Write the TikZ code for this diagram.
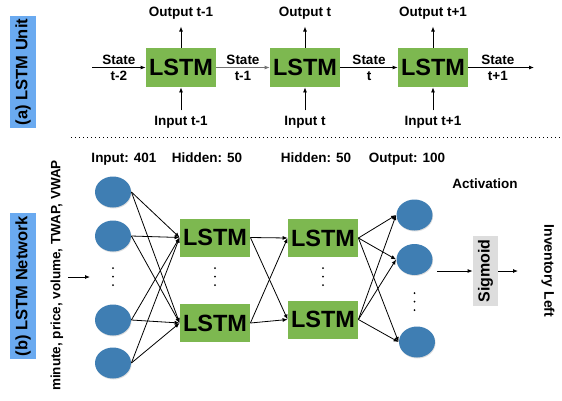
\documentclass[tikz,border=0pt]{standalone}
\usepackage{fontspec}
\setmainfont{Liberation Sans}
\usetikzlibrary{arrows.meta, calc, shapes.geometric, shadows}
\definecolor{lstmgreen}{RGB}{125,184,80}
\definecolor{cellblue}{RGB}{63,126,179}
\definecolor{tagblue}{RGB}{106,170,240}
\definecolor{siggray}{RGB}{221,221,221}
\newcommand{\fs}[1]{\fontsize{#1}{#1}\selectfont\bfseries}
\tikzset{lstmbox/.style = {fill=lstmgreen, inner sep=0pt, minimum width=70pt, minimum height=38pt, font=\fs{23.5}}}
\tikzset{cell/.style = {ellipse, fill=cellblue, inner sep=0pt, minimum width=36pt, minimum height=31pt,
  drop shadow={opacity=0.25, shadow xshift=0.6pt, shadow yshift=-1pt}}}
\tikzset{lbl/.style = {inner sep=2pt, font=\fs{13.5}}}
\tikzset{tag/.style = {fill=tagblue, rotate=90, inner sep=3pt, minimum height=26pt, font=\fs{16.5}}}

\begin{document}
\begin{tikzpicture}[x=1pt, y=-1pt, line width=0.8pt, >={Latex[length=5pt, width=4pt]}]
\useasboundingbox (0,0) rectangle (562,400);

% (a) LSTM unit
\node [tag] (taga) at (23,72) {(a) LSTM Unit};
\node [lstmbox, minimum height=39pt] (u1) at (181,67.5) {LSTM};
\node [lstmbox, minimum height=39pt] (u2) at (305,67.5) {LSTM};
\node [lstmbox, minimum height=39pt] (u3) at (433,67.5) {LSTM};
\coordinate (s0) at (92,67.5);
\coordinate (s4) at (534,67.5);
\draw [->] (s0) -- (u1) node [lbl, midway, above] {State} node [lbl, midway, below=1.5pt] {t-2};
\draw [->, black!55] (u1) -- (u2) node [lbl, black, midway, above] {State} node [lbl, black, midway, below=1.5pt] {t-1};
\draw [->] (u2) -- (u3) node [lbl, midway, above] {State} node [lbl, midway, below=1.5pt] {t};
\draw [->] (u3) -- (s4) node [lbl, pos=0.45, above] {State} node [lbl, pos=0.45, below=1.5pt] {t+1};
\foreach \u/\t in {u1/t-1, u2/t, u3/t+1} {
  \coordinate (\u o) at ($(\u.north)+(0,-21)$);
  \coordinate (\u i) at ($(\u.south)+(0,23)$);
  \draw [->] (\u.north) -- (\u o) node [lbl, above=5pt] {Output \t};
  \draw [->] (\u i) node [lbl, below=3pt] {Input \t} -- (\u.south);
}
\coordinate (d0) at (71,137);
\coordinate (d1) at (562,137);
\draw [line width=1pt, dash pattern=on 1pt off 3pt] (d0) -- (d1);

% (b) LSTM network
\node [tag] (tagb) at (23,286) {(b) LSTM Network};
\node [rotate=90, inner sep=0pt, font=\fs{13.5}] (feat) at (57,275.5) {minute, price, volume, TWAP, VWAP};
\coordinate (f0) at (68,277);
\coordinate (f1) at (90,277);
\draw [->] (f0) -- (f1);

\node [lbl, anchor=base] (hin) at (124,162) {Input: 401};
\node [lbl, anchor=base] (hh1) at (207,162) {Hidden: 50};
\node [lbl, anchor=base] (hh2) at (316,162) {Hidden: 50};
\node [lbl, anchor=base] (hout) at (407,162) {Output: 100};
\node [lbl, anchor=base] (hact) at (485,188) {Activation};

\node [cell] (i1) at (113,192) {};
\node [cell] (i2) at (113,236) {};
\node [cell] (i3) at (113,320) {};
\node [cell] (i4) at (113,363) {};

\node [lstmbox] (h1) at (215,237.5) {LSTM};
\node [lstmbox] (h2) at (215,323) {LSTM};

\node [lstmbox] (g1) at (323,238) {LSTM};
\node [lstmbox] (g2) at (323,319.5) {LSTM};

\node [cell] (o1) at (414.5,215) {};
\node [cell] (o2) at (414.5,259.5) {};
\node [cell] (o3) at (417,342) {};

% dots between the rows
\foreach \x/\y in {113/268, 215/268, 323/268, 414.5/293}
  \foreach \k in {0,1,2}
    \fill (\x,\y+8.6*\k) circle (1pt);

\foreach \a in {i1,i2,i3,i4}
  \foreach \b in {h1,h2}
    \draw [->] (\a.east) -- (\b.west);
\foreach \a in {h1,h2}
  \foreach \b in {g1,g2}
    \draw [->] (\a.east) -- (\b.west);
\foreach \a in {g1,g2}
  \foreach \b in {o1,o2,o3}
    \draw [->] (\a.east) -- (\b.west);

\node [fill=siggray, rotate=90, inner sep=0pt, minimum width=70pt, minimum height=25pt, font=\fs{16}] (sig) at (485.5,271) {Sigmoid};
\coordinate (a0) at (437,271);
\coordinate (a1) at (518,271);
\draw [->] (a0) -- (sig);
\draw [->] (sig) -- (a1);
\node [rotate=-90, inner sep=0pt, font=\fs{14}] (inv) at (548,271) {Inventory Left};
\end{tikzpicture}
\end{document}
